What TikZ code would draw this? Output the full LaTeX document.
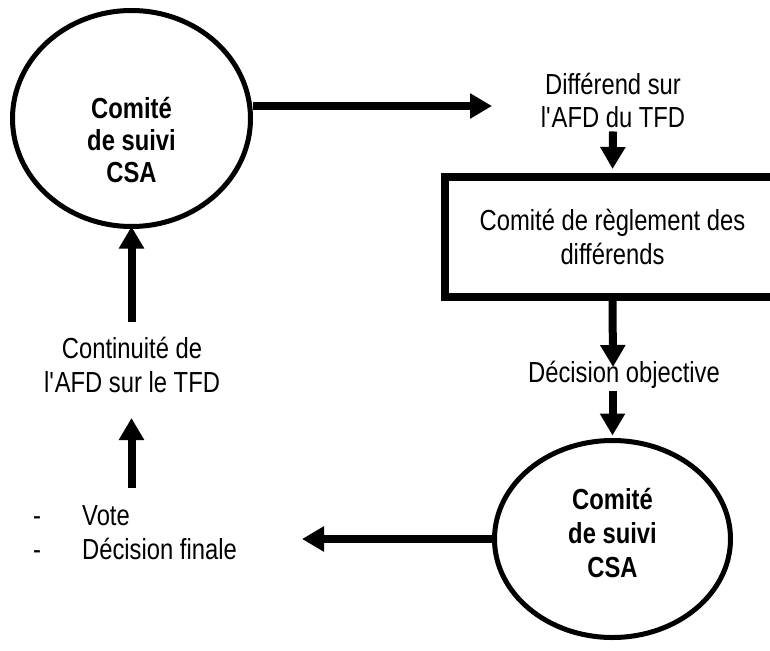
\documentclass[tikz,border=0pt]{standalone}
\usepackage{fontspec}
\setmainfont{Liberation Sans}[FakeStretch=0.82]
\usepackage{tikz}
\usetikzlibrary{shapes.geometric,arrows.meta}

\begin{document}
\begin{tikzpicture}[x=1pt,y=-1pt,inner sep=3pt,
  font=\fontsize{29pt}{33.5pt}\selectfont,
  csa/.style={ellipse,draw=black,line width=5pt,inner sep=0pt},
  txt/.style={align=center,anchor=base},
  flow/.style={line width=8pt,-{Triangle[length=22pt,width=24pt]}}]
\useasboundingbox (0,0) rectangle (770,650);
%Node Coordinates
\node at (131.5,118.5) [csa,minimum width=238pt,minimum height=216pt] (CsaTop) {};
\node at (612.5,539) [csa,minimum width=236pt,minimum height=197pt] (CsaBottom) {};
\node at (612.5,237) [rectangle,draw=black,line width=8pt,minimum width=335pt,minimum height=120pt,align=center] (Reglement) {Comité de règlement des\\différends};
\coordinate (DiffIn) at (492,106);
\coordinate (DecIn) at (613,367);
\coordinate (VoteIn) at (302,539);
\coordinate (ContIn) at (131.5,418);
\coordinate (VoteOut) at (131.5,488);
\coordinate (ContOut) at (131.5,322);
%Node Labels (base = last line)
\node [txt,font=\fontsize{29pt}{32pt}\selectfont\bfseries] at (131.5,182) (CsaTopText) {Comité\\de suivi\\CSA};
\node [txt,font=\fontsize{29pt}{34pt}\selectfont\bfseries] at (612.5,577) (CsaBottomText) {Comité\\de suivi\\CSA};
\node [txt] at (613,128) (Differend) {Différend sur\\l\textquotesingle AFD du TFD};
\node [txt] at (624,382) (Decision) {Décision objective};
\node [txt] at (132,392) (Continuite) {Continuité de\\l\textquotesingle AFD sur le TFD};
\node [align=left,anchor=base west,inner sep=0pt] at (33,559) (VoteList) {\makebox[49pt][l]{-}Vote\\\makebox[49pt][l]{-}Décision finale};
%connections
\draw [flow] (CsaTop.east |- DiffIn) -- (DiffIn);
\draw [flow,shorten >=4pt] (Differend.south) -- (Reglement.north);
\draw [flow] (Reglement.south) -- (DecIn);
\draw [flow,shorten >=2.5pt] (Decision.south -| Reglement.south) -- (CsaBottom.north);
\draw [flow] (CsaBottom.west) -- (VoteIn);
\draw [flow] (VoteOut) -- (ContIn);
\draw [flow,shorten >=-2.5pt] (ContOut) -- (CsaTop.south);
\end{tikzpicture}
\end{document}
